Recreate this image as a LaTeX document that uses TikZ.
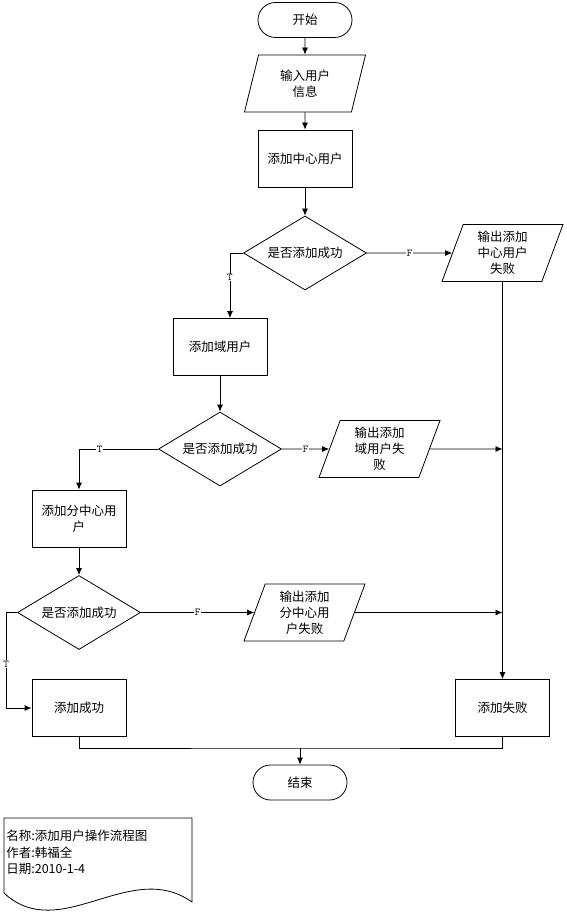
\documentclass[tikz,border=0pt]{standalone}
\usepackage{fontspec}
\setmainfont{Noto Sans CJK SC}
\usetikzlibrary{shapes.geometric,arrows.meta}

\begin{document}
\begin{tikzpicture}[x=1pt,y=-1pt,line width=0.8pt,
		>={Latex[length=7pt,width=6pt]},
		every node/.style={font=\fontsize{12.5}{16}\selectfont},
		term/.style={draw,rounded corners=17.5pt,minimum width=94pt,minimum height=35pt},
		proc/.style={draw,minimum width=94pt,minimum height=57pt,align=center,inner sep=2pt},
		io/.style={draw,trapezium,trapezium left angle=66,trapezium right angle=114,trapezium stretches body,minimum width=121pt,minimum height=57pt,align=center,inner sep=2pt},
		test/.style={draw,diamond,aspect=1.68,minimum width=123pt,minimum height=74pt,inner sep=0pt},
		flag/.style={fill=white,inner sep=0.5pt,font=\fontsize{10.5}{11}\ttfamily}]
		%\draw [help lines] (0,0) grid (566,915);
		\useasboundingbox (0,0) rectangle (566,915);
		% centre user
			\node [term] (start) at (305,20) {开始};
			\node [io] (in) at (305,83.5) {输入用户\\信息};
			\node [proc] (addc) at (305,158.5) {添加中心用户};
			\node [test] (q1) at (305,253) {是否添加成功};
			\node [io] (outc) at (502.5,253) {输出添加\\中心用户\\失败};
		% domain user
			\node [proc] (addd) at (220,347) {添加域用户};
			\node [test] (q2) at (220,449) {是否添加成功};
			\node [io] (outd) at (379.5,449) {输出添加\\域用户失\\败};
		% branch centre user
			\node [proc] (adds) at (79,518.5) {添加分中心用\\户};
			\node [test] (q3) at (79,612.5) {是否添加成功};
			\node [io] (outs) at (304.5,612.5) {输出添加\\分中心用\\户失败};
		% results
			\node [proc] (ok) at (79,708) {添加成功};
			\node [proc] (fail) at (502.5,708) {添加失败};
			\node [term] (stop) at (300,782.5) {结束};
		% arrows
			\draw [->] (start) -- (in);
			\draw [->] (in) -- (addc);
			\draw [->] (addc) -- (q1);
			\draw [->] (q1) -- node [flag] {F} (outc);
			\draw [->] (q1) -| node [flag,pos=0.69] {T} ([xshift=10pt]addd.north);
			\draw [->] (addd) -- (q2);
			\draw [->] (q2) -- node [flag] {F} (outd);
			\draw [->] (q2) -| node [flag,pos=0.37] {T} (adds);
			\draw [->] (adds) -- (q3);
			\draw [->] (q3) -- node [flag] {F} (outs);
			\draw [->] (q3.west) -- ++(-11,0) |- node [flag,pos=0.27] {T} (ok.west);
			\draw [->] (outc) -- (fail);
			\draw [->] (outd) -- (outd -| fail);
			\draw [->] (outs) -- (outs -| fail);
			\coordinate (join) at (300,748);
			\draw (ok) |- (join) -| (fail);
			\draw [->] (join) -- (stop);
		% legend sheet
			\draw (4,818) -- (192,818) -- (192,902) .. controls (130,858) and (60,945) .. (4,893) -- cycle;
			\node [anchor=north west,align=left,inner sep=0pt,font=\fontsize{12.5}{16.5}\selectfont] (note) at (6,830) {名称:添加用户操作流程图\\作者:韩福全\\日期:2010-1-4};
\end{tikzpicture}
\end{document}
